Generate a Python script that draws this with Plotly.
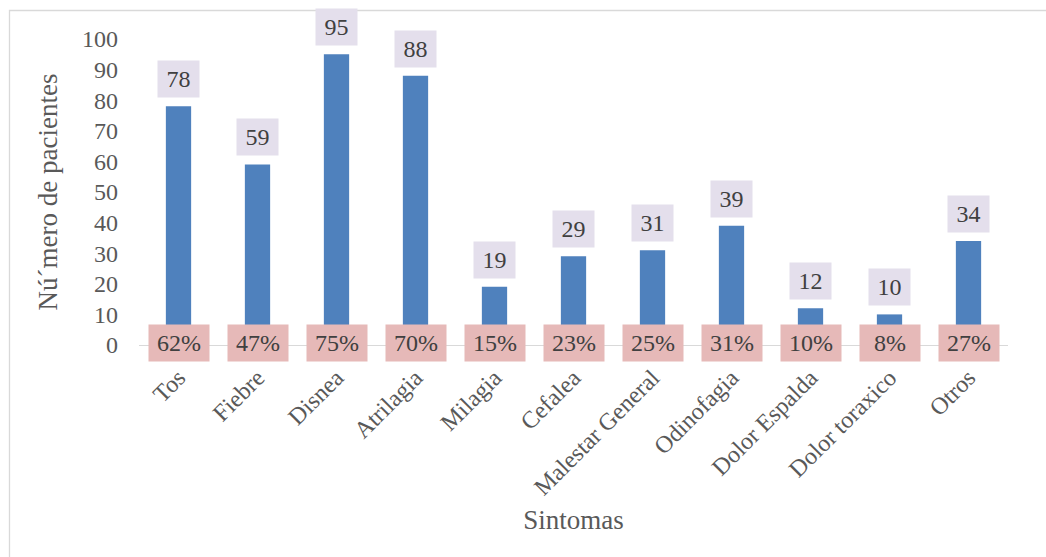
import plotly.graph_objects as go

# Síntomas registrados y número de pacientes
sintomas = ["Tos", "Fiebre", "Disnea", "Atrilagia", "Milagia", "Cefalea",
            "Malestar General", "Odinofagia", "Dolor Espalda", "Dolor toraxico", "Otros"]
pacientes = [78, 59, 95, 88, 19, 29, 31, 39, 12, 10, 34]
porcentajes = [62, 47, 75, 70, 15, 23, 25, 31, 10, 8, 27]
y_ticks = [0, 10, 20, 30, 40, 50, 60, 70, 80, 90, 100]

FONT = "Liberation Serif, Times New Roman, serif"
W, H = 1046, 557
ML, MR, MT, MB = 139, 38, 39, 212
PW, PH = W - ML - MR, H - MT - MB


def px_to_paper_x(px):
    return (px - ML) / PW


def px_to_paper_y(py):
    return (H - MB - py) / PH


fig = go.Figure()
fig.add_trace(go.Bar(
    x=sintomas,
    y=pacientes,
    marker=dict(color="#4f81bd", line=dict(width=0)),
    width=0.32,
    hoverinfo="x+y",
))

annotations = []
for s, v, p in zip(sintomas, pacientes, porcentajes):
    # value box above each bar
    annotations.append(dict(
        x=s, y=v, xref="x", yref="y",
        text=str(v), showarrow=False,
        yanchor="bottom", yshift=8,
        width=41, height=36, borderpad=0,
        bgcolor="#e4dfec",
        font=dict(family=FONT, size=24, color="#404040"),
    ))
    # percentage box on the baseline
    annotations.append(dict(
        x=s, y=0, xref="x", yref="y",
        text=f"{p}%", showarrow=False,
        yanchor="middle", yshift=2,
        width=60, height=36, borderpad=0,
        bgcolor="#e6b9b8",
        font=dict(family=FONT, size=24, color="#404040"),
    ))

# chart-area border (left and top edges)
shapes = [dict(
    type="rect", xref="paper", yref="paper",
    x0=px_to_paper_x(9.5), y0=px_to_paper_y(H + 5),
    x1=px_to_paper_x(W + 5), y1=px_to_paper_y(10.5),
    line=dict(color="#d9d9d9", width=1.3),
    fillcolor="rgba(0,0,0,0)", layer="below",
)]

fig.update_layout(
    width=W, height=H,
    margin=dict(l=ML, r=MR, t=MT, b=MB, pad=0),
    paper_bgcolor="white", plot_bgcolor="white",
    showlegend=False,
    bargap=0.68,
    annotations=annotations,
    shapes=shapes,
    font=dict(family=FONT, color="#595959"),
)
fig.update_xaxes(
    showgrid=False, zeroline=False,
    showline=True, linecolor="#d9d9d9", linewidth=1.3,
    ticks="", tickangle=-45, ticklabelstandoff=8,
    tickfont=dict(family=FONT, size=24, color="#595959"),
    title=dict(text="Sintomas", font=dict(family=FONT, size=27, color="#595959"), standoff=10),
)
fig.update_yaxes(
    range=[0, 100],
    tickvals=y_ticks,
    showgrid=False, zeroline=False, showline=False,
    ticks="", ticklabelstandoff=20,
    tickfont=dict(family=FONT, size=24, color="#595959"),
    title=dict(text="Nú´mero de pacientes", font=dict(family=FONT, size=27, color="#595959"), standoff=16),
)
fig.update_traces(cliponaxis=False)

fig.write_html("out.html")
